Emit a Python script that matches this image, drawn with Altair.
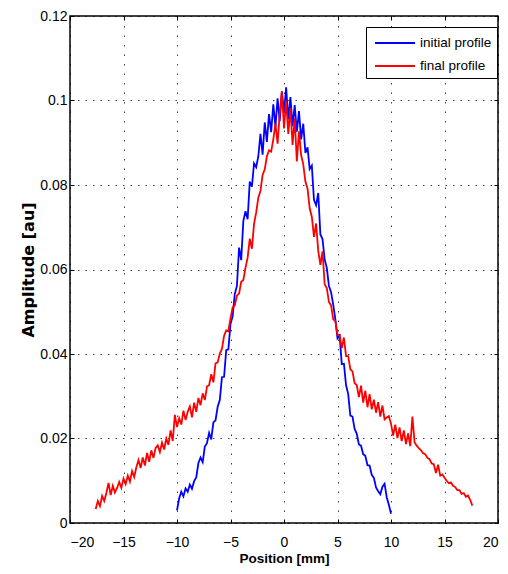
import altair as alt
import pandas as pd

# ---- data ----
series_names = ["initial profile", "final profile"]
series_colors = ["#0000ff", "#ff0000"]

x_ticks = [-20, -15, -10, -5, 0, 5, 10, 15, 20]
y_ticks = [0, 0.02, 0.04, 0.06, 0.08, 0.1, 0.12]

step = 0.2
blue_start = -10.0
blue_amp = [
    0.0030, 0.0058, 0.0074, 0.0063, 0.0082, 0.0074, 0.0091, 0.0081, 0.0099, 0.0108,
    0.0142, 0.0155, 0.0144, 0.0181, 0.0189, 0.0213, 0.0198, 0.0238, 0.0243, 0.0275,
    0.0291, 0.0345, 0.0346, 0.0409, 0.0411, 0.0471, 0.0489, 0.0542, 0.0561, 0.0652,
    0.0622, 0.0715, 0.0738, 0.0719, 0.0808, 0.0796, 0.0851, 0.0842, 0.0868, 0.0921,
    0.0872, 0.0948, 0.0902, 0.0968, 0.0925, 0.0991, 0.0938, 0.1005, 0.0951, 0.1021,
    0.0972, 0.1031, 0.0955, 0.1008, 0.0939, 0.0989, 0.0926, 0.0975, 0.0908, 0.0945,
    0.0876, 0.0889, 0.0838, 0.0846, 0.0765, 0.0752, 0.0781, 0.0683, 0.0672, 0.0624,
    0.0604, 0.0561, 0.0546, 0.0517, 0.0482, 0.0437, 0.0443, 0.0376, 0.0377, 0.0326,
    0.0305, 0.0254, 0.0252, 0.0223, 0.0211, 0.0186, 0.0183, 0.0163, 0.0159, 0.0137,
    0.0136, 0.0114, 0.0107, 0.0084, 0.0075, 0.0068, 0.0086, 0.0093, 0.0061, 0.0043,
    0.0022,
]

red_start = -17.6
red_amp = [
    0.0033, 0.0052, 0.0040, 0.0064, 0.0052, 0.0071, 0.0095, 0.0066, 0.0088, 0.0072,
    0.0083, 0.0097, 0.0083, 0.0105, 0.0092, 0.0112, 0.0098, 0.0123, 0.0109, 0.0132,
    0.0149, 0.0130, 0.0155, 0.0136, 0.0166, 0.0145, 0.0172, 0.0154, 0.0178, 0.0184,
    0.0168, 0.0190, 0.0174, 0.0200, 0.0185, 0.0219, 0.0194, 0.0256, 0.0227, 0.0248,
    0.0233, 0.0266, 0.0244, 0.0263, 0.0276, 0.0250, 0.0285, 0.0263, 0.0296, 0.0279,
    0.0307, 0.0291, 0.0323, 0.0326, 0.0352, 0.0333, 0.0378, 0.0380, 0.0401, 0.0412,
    0.0443, 0.0456, 0.0454, 0.0484, 0.0510, 0.0515, 0.0538, 0.0543, 0.0571, 0.0575,
    0.0604, 0.0628, 0.0673, 0.0649, 0.0708, 0.0735, 0.0770, 0.0786, 0.0824, 0.0837,
    0.0868, 0.0882, 0.0879, 0.0908, 0.0945, 0.0898, 0.0969, 0.1022, 0.0934, 0.0999,
    0.0921, 0.0982, 0.0895, 0.0958, 0.0856, 0.0927, 0.0871, 0.0849, 0.0808, 0.0791,
    0.0745, 0.0725, 0.0677, 0.0709, 0.0644, 0.0611, 0.0643, 0.0565, 0.0556, 0.0523,
    0.0515, 0.0482, 0.0478, 0.0445, 0.0445, 0.0414, 0.0439, 0.0395, 0.0395, 0.0364,
    0.0359, 0.0331, 0.0326, 0.0298, 0.0325, 0.0285, 0.0313, 0.0274, 0.0305, 0.0269,
    0.0292, 0.0261, 0.0286, 0.0252, 0.0278, 0.0245, 0.0250, 0.0253, 0.0235, 0.0207,
    0.0233, 0.0201, 0.0226, 0.0194, 0.0219, 0.0187, 0.0212, 0.0182, 0.0252, 0.0191,
    0.0183, 0.0177, 0.0172, 0.0165, 0.0163, 0.0154, 0.0151, 0.0141, 0.0139, 0.0118,
    0.0138, 0.0112, 0.0115, 0.0107, 0.0100, 0.0094, 0.0096, 0.0088, 0.0085, 0.0078,
    0.0078, 0.0069, 0.0071, 0.0062, 0.0065, 0.0055, 0.0041,
]

blue_pos = [round(blue_start + step * i, 2) for i in range(len(blue_amp))]
red_pos = [round(red_start + step * i, 2) for i in range(len(red_amp))]

df_blue = pd.DataFrame({"pos": blue_pos, "amp": blue_amp, "series": series_names[0]})
df_red = pd.DataFrame({"pos": red_pos, "amp": red_amp, "series": series_names[1]})

FONT = "Liberation Sans"
TICK = 4

x_scale = alt.Scale(domain=[-20, 20], nice=False, zero=False)
y_scale = alt.Scale(domain=[0, 0.12], nice=False)

# main (labelled) axes: bottom / left, ticks pointing into the plot
x_main = alt.X(
    "pos:Q", scale=x_scale,
    axis=alt.Axis(
        orient="bottom", values=x_ticks, format="d", title="Position [mm]",
        titleFont=FONT, titleFontSize=13.5, titleFontWeight="bold",
        titlePadding=2, labelPadding=12,
        offset=-TICK, tickSize=TICK, domain=False,
        grid=True, gridDash=[1.5, 8],
    ),
)
y_main = alt.Y(
    "amp:Q", scale=y_scale,
    axis=alt.Axis(
        orient="left", values=y_ticks,
        labelExpr="datum.value == 0 ? '0' : format(datum.value, '.2~f')",
        title="Amplitude [au]",
        titleFont="DejaVu Sans", titleFontSize=16, titleFontWeight="bold",
        titlePadding=3, labelPadding=3,
        offset=-TICK, tickSize=TICK, domain=False,
        grid=True, gridDash=[1.5, 6],
    ),
)
# secondary axes: top / right, only inward ticks
x_top = alt.X(
    "pos:Q", scale=x_scale,
    axis=alt.Axis(
        orient="top", values=x_ticks, labels=False, title=None,
        offset=-TICK, tickSize=TICK, domain=False, grid=False,
    ),
)
y_right = alt.Y(
    "amp:Q", scale=y_scale,
    axis=alt.Axis(
        orient="right", values=y_ticks, labels=False, title=None,
        offset=-TICK, tickSize=TICK, domain=False, grid=False,
    ),
)

color_enc = alt.Color(
    "series:N",
    scale=alt.Scale(domain=series_names, range=series_colors),
    legend=alt.Legend(
        title=None, orient="none", legendX=296, legendY=11,
        symbolType="M-2,0H2", symbolSize=400, symbolStrokeWidth=2,
        symbolOffset=13,
        labelFont=FONT, labelFontSize=13.5, labelColor="black",
        padding=5, rowPadding=5, labelOffset=14,
        strokeColor="black", fillColor="white",
    ),
)

blue_line = alt.Chart(df_blue).mark_line(strokeWidth=1.8).encode(x=x_main, y=y_main, color=color_enc)
red_line = alt.Chart(df_red).mark_line(strokeWidth=1.8).encode(x=x_top, y=y_right, color=color_enc)

chart = (
    alt.layer(blue_line, red_line)
    .resolve_axis(x="independent", y="independent")
    .properties(
        width=428, height=507,
        padding={"left": 70, "top": 16, "right": 10, "bottom": 51},
        autosize=alt.AutoSizeParams(type="none"),
        background="white",
    )
    .configure_view(stroke="black", strokeWidth=1.5)
    .configure_axis(
        tickColor="black", tickWidth=1,
        labelFont=FONT, labelFontSize=14, labelColor="black", titleColor="black",
        gridColor="black", gridOpacity=0.75, gridWidth=1,
    )
)

chart.save("out.html", embed_options={"renderer": "svg", "actions": False})
